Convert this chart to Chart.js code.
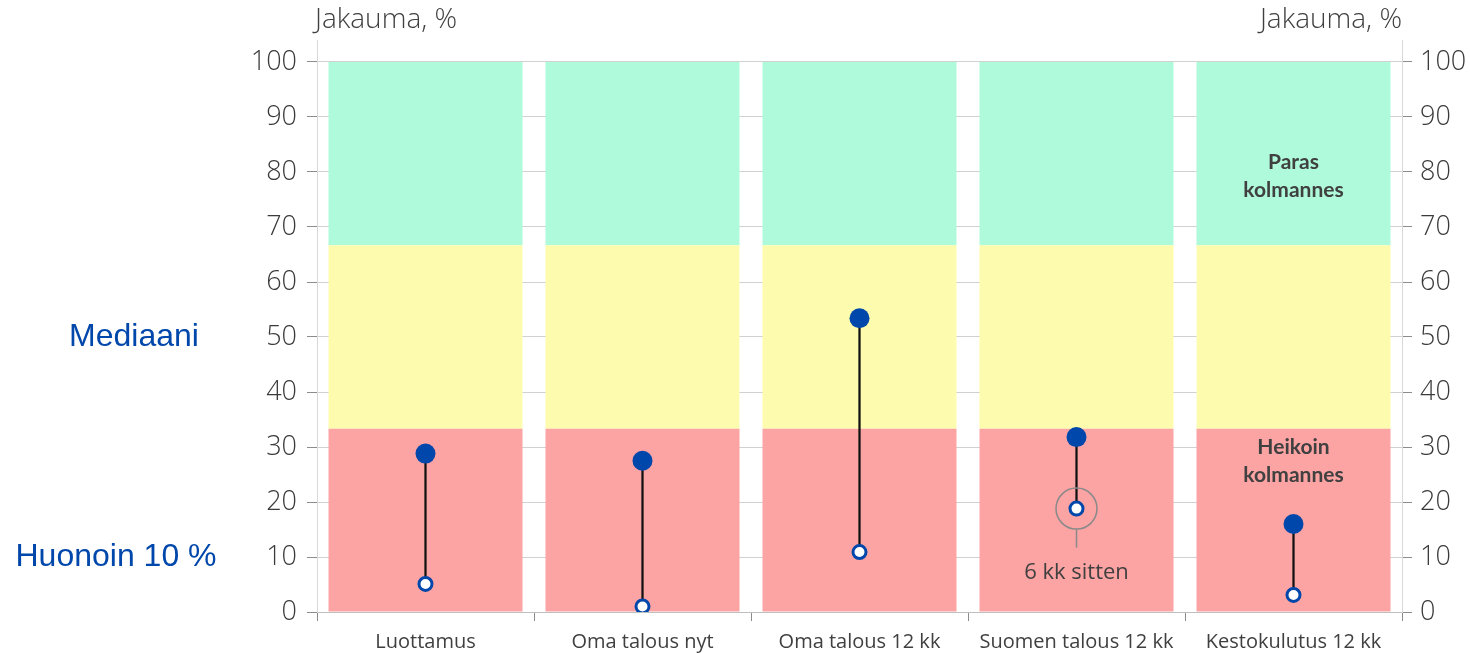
<!DOCTYPE html>
<html>
<head>
<meta charset="utf-8">
<script src="https://cdn.jsdelivr.net/npm/chart.js@4/dist/chart.umd.min.js"></script>
<style>
  html, body { margin: 0; padding: 0; background: #fff; }
  #wrap { width: 1470px; height: 653px; position: relative; }
</style>
</head>
<body>
<div id="wrap"><canvas id="c" width="1470" height="653"></canvas></div>
<script>
// ---- Data ----
const categories = ['Luottamus', 'Oma talous nyt', 'Oma talous 12 kk', 'Suomen talous 12 kk', 'Kestokulutus 12 kk'];
const medianValues = [28.8, 27.5, 53.4, 31.8, 16.0];
const worst10Values = [5.1, 1.0, 10.9, 18.8, 3.1];
const bandEdges = [0, 33.33, 66.67, 100];
const yTickValues = [0, 10, 20, 30, 40, 50, 60, 70, 80, 90, 100];
const axisTitle = 'Jakauma, %';
const sideLabelTexts = ['Mediaani', 'Huonoin 10 %'];
const sideLabelValues = [50, 10];
const bandLabelLines = [['Paras', 'kolmannes'], ['Heikoin', 'kolmannes']];
const bandLabelValues = [79.3, 27.4];
const bandLabelIndex = 4;
const annotationIndex = 3;
const annotationText = '6 kk sitten';

// ---- Styles ----
const BLUE = '#0047AB';
const TEXT = '#404040';
const bandColors = ['#FCA3A3', '#FDFCAE', '#AEFADB'];
const sideLabelCenterX = [134, 116];
const tickFont = { family: '"Open Sans", "DejaVu Sans", sans-serif', size: 27, weight: 300 };
const catFont = { family: '"Open Sans", "DejaVu Sans", sans-serif', size: 20, weight: 400 };

const bandDatasets = [0, 1, 2].map(i => ({
  type: 'bar',
  label: 'band' + i,
  data: categories.map(() => [bandEdges[i], bandEdges[i + 1]]),
  backgroundColor: bandColors[i],
  borderWidth: 0,
  grouped: false,
  barPercentage: 0.894,
  categoryPercentage: 1,
  order: 5
}));

const connDataset = {
  type: 'bar',
  label: 'conn',
  data: categories.map((c, i) => [worst10Values[i], medianValues[i]]),
  backgroundColor: '#111111',
  borderWidth: 0,
  grouped: false,
  barThickness: 1.6,
  order: 3
};

const medianDataset = {
  type: 'line',
  label: 'Mediaani',
  data: medianValues,
  showLine: false,
  pointRadius: 10,
  pointHoverRadius: 10,
  pointBackgroundColor: BLUE,
  pointBorderWidth: 0,
  order: 1
};

const worstDataset = {
  type: 'line',
  label: 'Huonoin 10 %',
  data: worst10Values,
  showLine: false,
  pointRadius: 6.5,
  pointHoverRadius: 6.5,
  pointBackgroundColor: '#ffffff',
  pointBorderColor: BLUE,
  pointBorderWidth: 3,
  order: 0
};

const extras = {
  id: 'extras',
  afterDraw(chart) {
    const ctx = chart.ctx;
    const y = chart.scales.y;
    const x = chart.scales.x;
    const area = chart.chartArea;
    ctx.save();
    // axis titles
    ctx.fillStyle = TEXT;
    ctx.font = '300 28px "Open Sans", sans-serif';
    ctx.textBaseline = 'middle';
    ctx.textAlign = 'left';
    ctx.fillText(axisTitle, area.left - 2, 20);
    ctx.textAlign = 'right';
    ctx.fillText(axisTitle, area.right, 20);
    // side labels
    ctx.fillStyle = BLUE;
    ctx.font = '32px "Liberation Sans", Arial, sans-serif';
    ctx.textAlign = 'center';
    sideLabelTexts.forEach((t, i) => {
      ctx.fillText(t, sideLabelCenterX[i], y.getPixelForValue(sideLabelValues[i]));
    });
    // band labels
    ctx.fillStyle = TEXT;
    ctx.font = 'bold 21px Lato, "Open Sans", sans-serif';
    bandLabelLines.forEach((lines, i) => {
      const cx = x.getPixelForValue(bandLabelIndex);
      const cy = y.getPixelForValue(bandLabelValues[i]);
      lines.forEach((ln, k) => ctx.fillText(ln, cx, cy + (k - 0.5) * 28));
    });
    // annotation
    const ax = x.getPixelForValue(annotationIndex);
    const ay = y.getPixelForValue(worst10Values[annotationIndex]);
    ctx.strokeStyle = '#8a8a8a';
    ctx.lineWidth = 1.5;
    ctx.beginPath();
    ctx.arc(ax, ay, 20.5, 0, Math.PI * 2);
    ctx.stroke();
    ctx.beginPath();
    ctx.moveTo(ax, ay + 20.5);
    ctx.lineTo(ax, ay + 39);
    ctx.stroke();
    ctx.fillStyle = TEXT;
    ctx.font = '22px "Open Sans", sans-serif';
    ctx.fillText(annotationText, ax, ay + 64);
    ctx.restore();
  }
};

new Chart(document.getElementById('c'), {
  type: 'bar',
  data: {
    labels: categories,
    datasets: [...bandDatasets, connDataset, medianDataset, worstDataset]
  },
  options: {
    responsive: false,
    animation: false,
    events: [],
    layout: { padding: { top: 40, left: 0, right: 0, bottom: 0 } },
    plugins: { legend: { display: false }, tooltip: { enabled: false } },
    scales: {
      x: {
        type: 'category',
        offset: true,
        grid: { display: true, drawOnChartArea: false, drawTicks: true, tickLength: 9, offset: true, color: '#8c8c8c' },
        border: { display: true, color: '#bfbfbf' },
        ticks: { color: TEXT, font: catFont, padding: 9, maxRotation: 0 },
        afterFit(s) { s.height = 41; }
      },
      y: {
        position: 'left',
        min: 0, max: 104,
        z: 1,
        afterBuildTicks(s) { s.ticks = yTickValues.map(v => ({ value: v })); },
        grid: { color: 'rgba(0,0,0,0.18)', tickLength: 10, tickColor: '#8c8c8c' },
        border: { display: true, color: '#d9d9d9' },
        ticks: { color: '#3a3a3a', font: tickFont, padding: 10 },
        afterFit(s) { s.width = 317; }
      },
      y2: {
        position: 'right',
        min: 0, max: 104,
        afterBuildTicks(s) { s.ticks = yTickValues.map(v => ({ value: v })); },
        grid: { drawOnChartArea: false, tickLength: 10, color: '#8c8c8c' },
        border: { display: true, color: '#d9d9d9' },
        ticks: { color: '#3a3a3a', font: tickFont, padding: 8 },
        afterFit(s) { s.width = 68; }
      }
    }
  },
  plugins: [extras]
});
</script>
</body>
</html>
